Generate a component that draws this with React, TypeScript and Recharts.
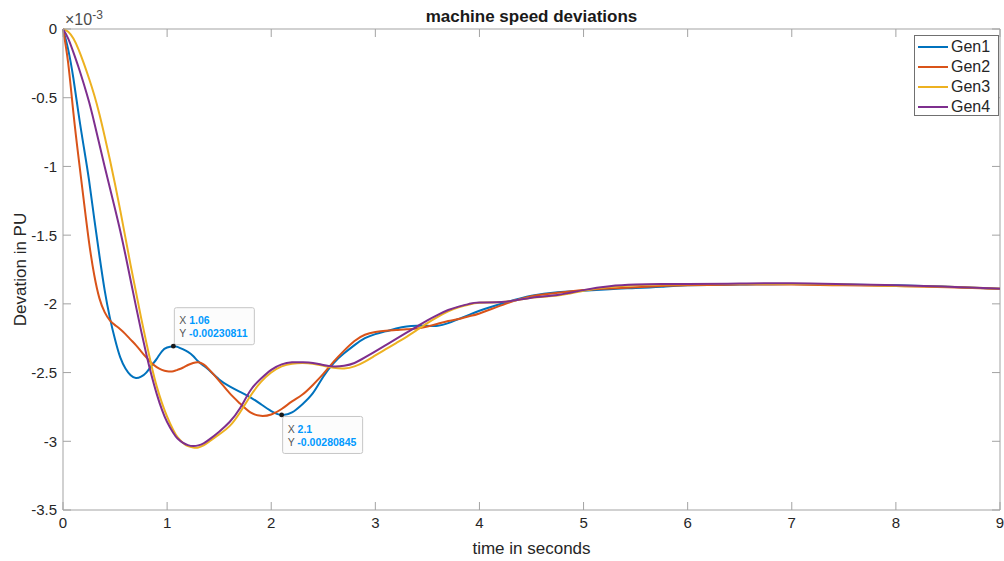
import React from 'react';
import {
  LineChart,
  Line,
  XAxis,
  YAxis,
  ReferenceLine,
  ReferenceDot,
  Legend,
} from 'recharts';

// Simulation time (s)
const time = [
  0, 0.05, 0.1, 0.15, 0.2, 0.25, 0.3, 0.35, 0.4, 0.45,
  0.5, 0.55, 0.6, 0.65, 0.7, 0.75, 0.8, 0.85, 0.9, 0.95,
  1.0, 1.06, 1.1, 1.15, 1.2, 1.25, 1.3, 1.35, 1.4, 1.5,
  1.6, 1.7, 1.8, 1.9, 2.0, 2.1, 2.2, 2.3, 2.4, 2.5,
  2.6, 2.7, 2.8, 2.9, 3.0, 3.1, 3.2, 3.3, 3.4, 3.5,
  3.6, 3.7, 3.8, 3.9, 4.0, 4.25, 4.5, 4.75, 5.0, 5.25,
  5.5, 5.75, 6.0, 6.5, 7.0, 7.5, 8.0, 8.5, 9.0,
];

// Speed deviations in units of 1e-3 pu
const gen1 = [
  0, -0.15, -0.36, -0.62, -0.86, -1.1, -1.38, -1.65, -1.9, -2.1,
  -2.26, -2.39, -2.47, -2.52, -2.54, -2.53, -2.5, -2.45, -2.4, -2.345,
  -2.318, -2.30811, -2.313, -2.33, -2.35, -2.38, -2.42, -2.45, -2.48, -2.55,
  -2.6, -2.64, -2.68, -2.73, -2.78, -2.80845, -2.79, -2.73, -2.65, -2.53,
  -2.43, -2.36, -2.3, -2.25, -2.22, -2.2, -2.18, -2.165, -2.16, -2.16,
  -2.16, -2.14, -2.11, -2.08, -2.05, -1.99, -1.94, -1.915, -1.905, -1.893,
  -1.885, -1.875, -1.865, -1.86, -1.855, -1.86, -1.865, -1.875, -1.89,
];

const gen2 = [
  0, -0.25, -0.61, -0.94, -1.25, -1.55, -1.79, -1.96, -2.06, -2.12,
  -2.155, -2.185, -2.22, -2.26, -2.3, -2.345, -2.39, -2.43, -2.46, -2.48,
  -2.49, -2.49, -2.48, -2.465, -2.445, -2.43, -2.425, -2.44, -2.475, -2.56,
  -2.65, -2.725, -2.79, -2.815, -2.805, -2.765, -2.71, -2.66, -2.59, -2.51,
  -2.42, -2.34, -2.27, -2.225, -2.205, -2.195, -2.19, -2.185, -2.18, -2.165,
  -2.145, -2.125, -2.11, -2.09, -2.07, -2.0, -1.945, -1.92, -1.9, -1.888,
  -1.88, -1.87, -1.865, -1.86, -1.86, -1.865, -1.87, -1.88, -1.89,
];

const gen3 = [
  0, -0.02, -0.07, -0.15, -0.25, -0.36, -0.48, -0.62, -0.78, -0.95,
  -1.13, -1.32, -1.52, -1.72, -1.91, -2.1, -2.28, -2.45, -2.6, -2.72,
  -2.82, -2.92, -2.97, -3.01, -3.035, -3.045, -3.045, -3.03, -3.005, -2.95,
  -2.89, -2.79, -2.67, -2.57, -2.5, -2.455, -2.435, -2.43, -2.435, -2.45,
  -2.465, -2.47, -2.455, -2.42, -2.375, -2.33, -2.285, -2.24, -2.19, -2.14,
  -2.095, -2.055, -2.025, -2.005, -1.992, -1.985, -1.955, -1.94, -1.905, -1.878,
  -1.865, -1.86, -1.858, -1.855, -1.855, -1.86, -1.87, -1.875, -1.89,
];

const gen4 = [
  0, -0.07, -0.17, -0.28, -0.4, -0.53, -0.68, -0.84, -1.0, -1.155,
  -1.31, -1.47, -1.645, -1.83, -2.015, -2.195, -2.365, -2.52, -2.655, -2.77,
  -2.86, -2.94, -2.98, -3.01, -3.028, -3.035, -3.03, -3.015, -2.99, -2.93,
  -2.86, -2.76, -2.63, -2.545, -2.48, -2.44, -2.425, -2.425, -2.43, -2.445,
  -2.455, -2.45, -2.43, -2.39, -2.345, -2.3, -2.255, -2.21, -2.165, -2.12,
  -2.08, -2.045, -2.02, -2.0, -1.99, -1.985, -1.955, -1.935, -1.9, -1.872,
  -1.86, -1.856, -1.855, -1.852, -1.85, -1.857, -1.865, -1.875, -1.89,
];

const seriesNames = ['Gen1', 'Gen2', 'Gen3', 'Gen4'];
const seriesColors = ['#0072BD', '#D95319', '#EDB120', '#7E2F8E'];
const seriesValues = [gen1, gen2, gen3, gen4];

const xTicks = [0, 1, 2, 3, 4, 5, 6, 7, 8, 9];
const yTicks = [-3.5, -3, -2.5, -2, -1.5, -1, -0.5, 0];

// Data tips placed on Gen1
const tipTimes = [1.06, 2.1];
const tipBelow = [false, true];

const SCALE = 1e-3;
const W = 1004;
const H = 561;
const PLOT = { left: 63, right: 1000, top: 29, bottom: 510 };
const AXIS = '#a3a3a3';
const TEXT = '#262626';
const FONT = '"Liberation Sans", Arial, Helvetica, sans-serif';
const TICK = 8;

const keys = seriesNames.map((_, i) => `gen${i + 1}`);

const rows = time.map((t, i) => {
  const row: Record<string, number> = { t };
  seriesValues.forEach((vals, s) => {
    row[keys[s]] = vals[i];
  });
  return row;
});

const tips = tipTimes.map((t, i) => ({
  t,
  v: gen1[time.indexOf(t)],
  below: tipBelow[i],
}));

function XTick(props: any) {
  const { x, y, payload } = props;
  return (
    <g>
      <line x1={x} x2={x} y1={y} y2={y - TICK} stroke={AXIS} />
      <line x1={x} x2={x} y1={PLOT.top} y2={PLOT.top + TICK} stroke={AXIS} />
      <text x={x} y={y + 17.5} textAnchor="middle" fontSize={15} fill={TEXT} fontFamily={FONT}>
        {String(payload.value)}
      </text>
    </g>
  );
}

function YTick(props: any) {
  const { x, y, payload } = props;
  return (
    <g>
      <line x1={x} x2={x + TICK} y1={y} y2={y} stroke={AXIS} />
      <line x1={PLOT.right - TICK} x2={PLOT.right} y1={y} y2={y} stroke={AXIS} />
      <text x={x - 6} y={y} dy="0.36em" textAnchor="end" fontSize={15} fill={TEXT} fontFamily={FONT}>
        {String(payload.value)}
      </text>
    </g>
  );
}

function TipShape(props: any) {
  const { cx, cy, t, v, below } = props;
  if (cx == null || cy == null) return <g />;
  const w = 80;
  const h = 37;
  const bx = cx + 1;
  const by = below ? cy + 1.5 : cy - 1.5 - h;
  const yText = (v * SCALE).toPrecision(6);
  return (
    <g fontFamily={FONT} fontSize={10.5}>
      <rect x={bx} y={by} width={w} height={h} rx={2} fill="#fcfcfc" stroke="#c6c6c6" />
      <circle cx={cx} cy={cy} r={2.4} fill="#1a1a1a" />
      <text x={bx + 5} y={by + 16.5}>
        <tspan fill="#555">X </tspan>
        <tspan fill="#0099ff" fontWeight="bold">{String(t)}</tspan>
      </text>
      <text x={bx + 5} y={by + 29.5}>
        <tspan fill="#555">Y </tspan>
        <tspan fill="#0099ff" fontWeight="bold">{yText}</tspan>
      </text>
    </g>
  );
}

function LegendBox() {
  return (
    <div
      style={{
        width: 85,
        height: 81,
        boxSizing: 'border-box',
        border: '1px solid #707070',
        background: '#fff',
        paddingTop: 1,
        fontFamily: FONT,
        fontSize: 16,
        color: TEXT,
      }}
    >
      {seriesNames.map((name, i) => (
        <div key={name} style={{ display: 'flex', alignItems: 'center', height: 20, lineHeight: '20px' }}>
          <span
            style={{
              display: 'inline-block',
              width: 30,
              height: 2,
              marginLeft: 3,
              marginRight: 3,
              background: seriesColors[i],
            }}
          />
          <span>{name}</span>
        </div>
      ))}
    </div>
  );
}

export default function App() {
  const midX = (PLOT.left + PLOT.right) / 2;
  const midY = (PLOT.top + PLOT.bottom) / 2;
  return (
    <div style={{ position: 'absolute', left: 0, top: 0, width: W, height: H, background: '#fff' }}>
      <LineChart
        width={W}
        height={H}
        data={rows}
        margin={{ top: PLOT.top, right: W - PLOT.right, bottom: 0, left: 0 }}
      >
        <XAxis
          dataKey="t"
          type="number"
          domain={[0, 9]}
          ticks={xTicks}
          interval={0}
          height={H - PLOT.bottom}
          axisLine={{ stroke: AXIS }}
          tickLine={false}
          tickSize={0}
          tickMargin={0}
          tick={<XTick />}
        />
        <YAxis
          type="number"
          domain={[-3.5, 0]}
          ticks={yTicks}
          interval={0}
          width={PLOT.left}
          axisLine={{ stroke: AXIS }}
          tickLine={false}
          tickSize={0}
          tickMargin={0}
          tick={<YTick />}
        />
        <ReferenceLine y={0} stroke={AXIS} ifOverflow="extendDomain" />
        <ReferenceLine x={9} stroke={AXIS} ifOverflow="extendDomain" />
        {seriesNames.map((name, i) => (
          <Line
            key={name}
            name={name}
            dataKey={keys[i]}
            type="natural"
            stroke={seriesColors[i]}
            strokeWidth={2}
            dot={false}
            activeDot={false}
            isAnimationActive={false}
          />
        ))}
        {tips.map((tip) => (
          <ReferenceDot
            key={tip.t}
            x={tip.t}
            y={tip.v}
            r={2.4}
            shape={(p: any) => <TipShape cx={p.cx} cy={p.cy} t={tip.t} v={tip.v} below={tip.below} />}
          />
        ))}
        <Legend
          layout="vertical"
          align="center"
          verticalAlign="middle"
          wrapperStyle={{ left: 914, top: 35, width: 85, height: 81 }}
          content={() => <LegendBox />}
        />
      </LineChart>
      <svg
        width={W}
        height={H}
        style={{ position: 'absolute', left: 0, top: 0, pointerEvents: 'none' }}
        fontFamily={FONT}
      >
        <text x={midX} y={21.5} textAnchor="middle" fontSize={17} fontWeight="bold" fill="#1a1a1a">
          machine speed deviations
        </text>
        <text x={65} y={25} fontSize={16} fill="#4d4d4d">
          ×10<tspan dy={-6} fontSize={12}>-3</tspan>
        </text>
        <text x={midX} y={554} textAnchor="middle" fontSize={17} fill={TEXT}>
          time in seconds
        </text>
        <text
          x={26}
          y={midY}
          textAnchor="middle"
          fontSize={17}
          fill={TEXT}
          transform={`rotate(-90 26 ${midY})`}
        >
          Devation in PU
        </text>
      </svg>
    </div>
  );
}
